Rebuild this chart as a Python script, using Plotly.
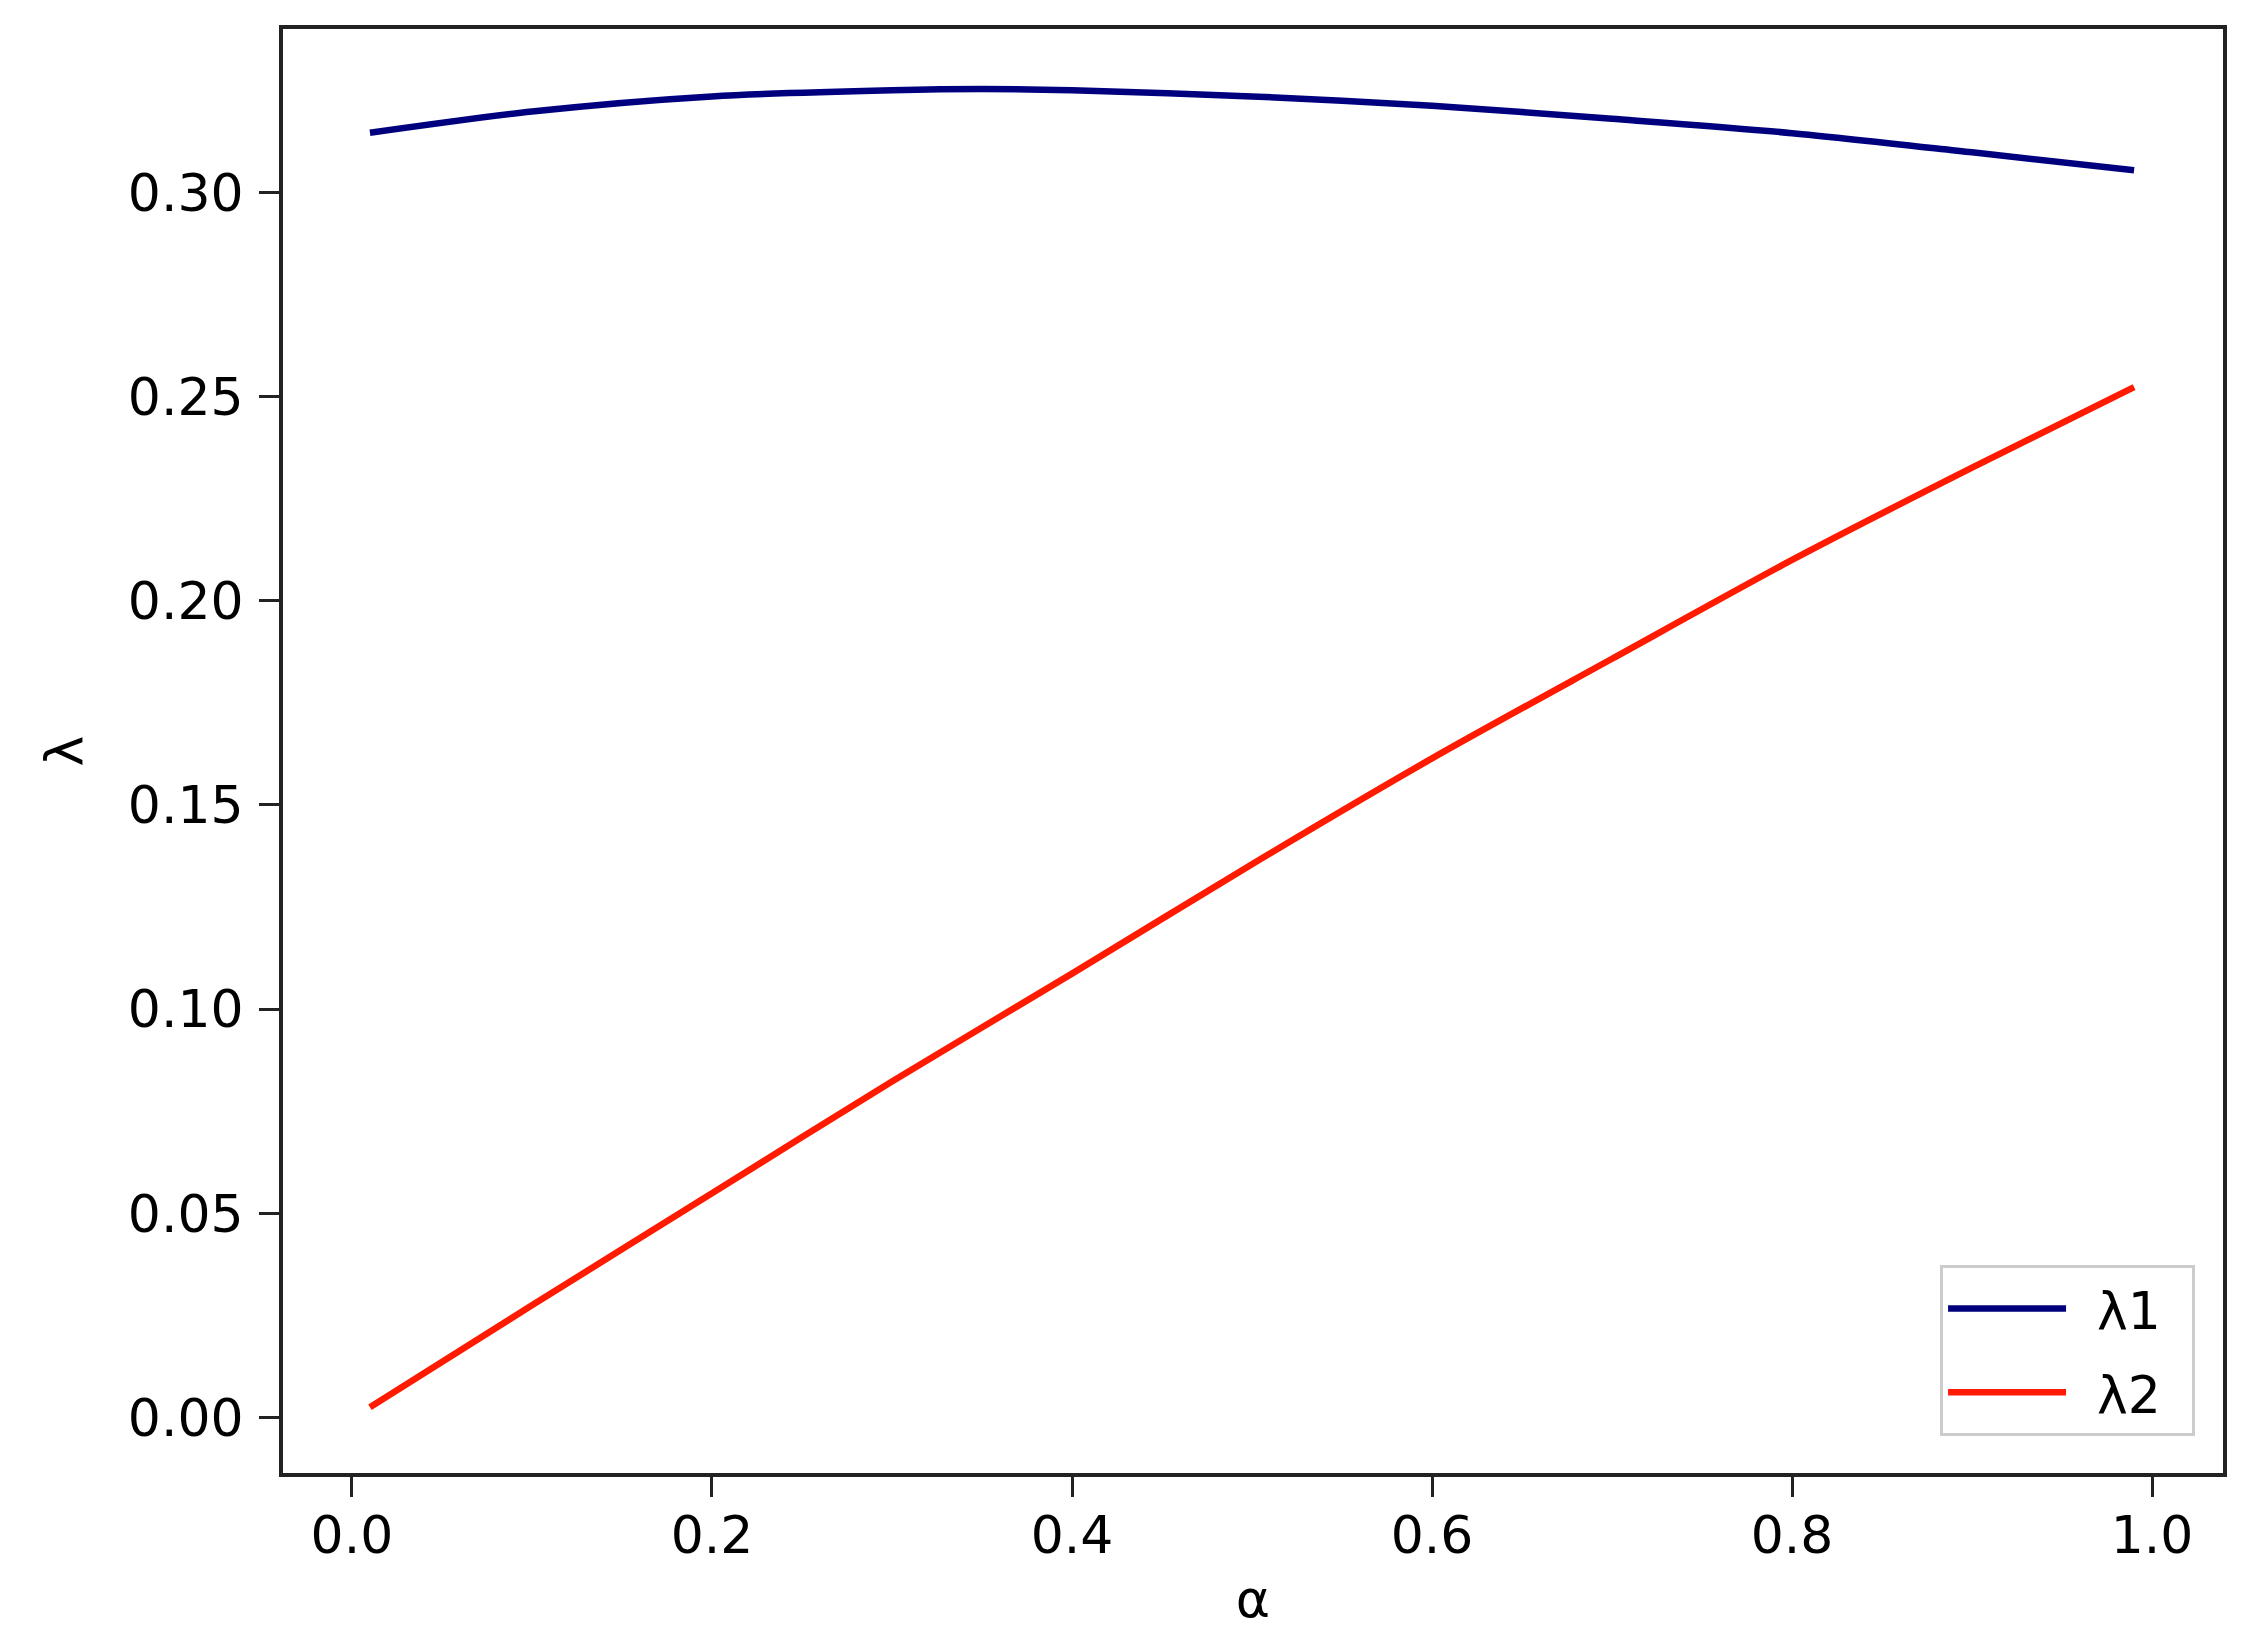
import plotly.graph_objects as go

alpha = [0.01, 0.10, 0.20, 0.30, 0.35, 0.40, 0.50, 0.60, 0.70, 0.80, 0.90, 0.99]
lambda1 = [0.3146, 0.3198, 0.3235, 0.3250, 0.3253, 0.3250, 0.3235, 0.3212, 0.3180, 0.3145, 0.3098, 0.3054]
alpha2 = [0.01, 0.10, 0.20, 0.30, 0.40, 0.50, 0.60, 0.70, 0.80, 0.90, 0.99]
lambda2 = [0.0025, 0.0275, 0.0549, 0.0823, 0.1087, 0.1355, 0.1614, 0.1858, 0.2100, 0.2326, 0.2523]

xticks = [0.0, 0.2, 0.4, 0.6, 0.8, 1.0]
yticks = [0.00, 0.05, 0.10, 0.15, 0.20, 0.25, 0.30]
series_names = ["λ1", "λ2"]

FONT = "DejaVu Sans"
FS = 52
SP = "\u2002"

fig = go.Figure()
fig.add_trace(go.Scatter(x=alpha, y=lambda1, mode="lines", name=SP + series_names[0] + SP,
                         legendgroup="a",
                         line=dict(color="#00007f", width=6.5, shape="spline", smoothing=0.8)))
fig.add_trace(go.Scatter(x=alpha2, y=lambda2, mode="lines", name=SP + series_names[1] + SP,
                         legendgroup="b",
                         line=dict(color="#ff1a00", width=6.5, shape="spline", smoothing=0.8)))

axis_common = dict(showline=True, linecolor="#222222", linewidth=4, mirror=True,
                   ticks="outside", ticklen=20, tickwidth=3, tickcolor="#222222",
                   showgrid=False, zeroline=False,
                   tickfont=dict(family=FONT, size=FS, color="black"))

fig.update_xaxes(range=[-0.0383, 1.0394], tickvals=xticks, tickformat=".1f",
                 ticklabelstandoff=-6,
                 title=dict(text="α", font=dict(family=FONT, size=FS, color="black"), standoff=17),
                 **axis_common)
fig.update_yaxes(range=[-0.01357, 0.3400], tickvals=yticks, tickformat=".2f",
                 ticklabelstandoff=5,
                 title=dict(text="λ", font=dict(family=FONT, size=FS, color="black"), standoff=30),
                 **axis_common)

fig.update_layout(
    width=2251, height=1640,
    margin=dict(l=275, r=36, t=21, b=175),
    paper_bgcolor="white", plot_bgcolor="white",
    font=dict(family=FONT, size=FS, color="black"),
    showlegend=True,
    legend=dict(x=0.9856, y=0.0254, xanchor="right", yanchor="bottom",
                bgcolor="white", bordercolor="#cccccc", borderwidth=3,
                font=dict(family=FONT, size=FS, color="black"),
                itemwidth=118, traceorder="grouped", tracegroupgap=13),
)

fig.write_html("out.html")
